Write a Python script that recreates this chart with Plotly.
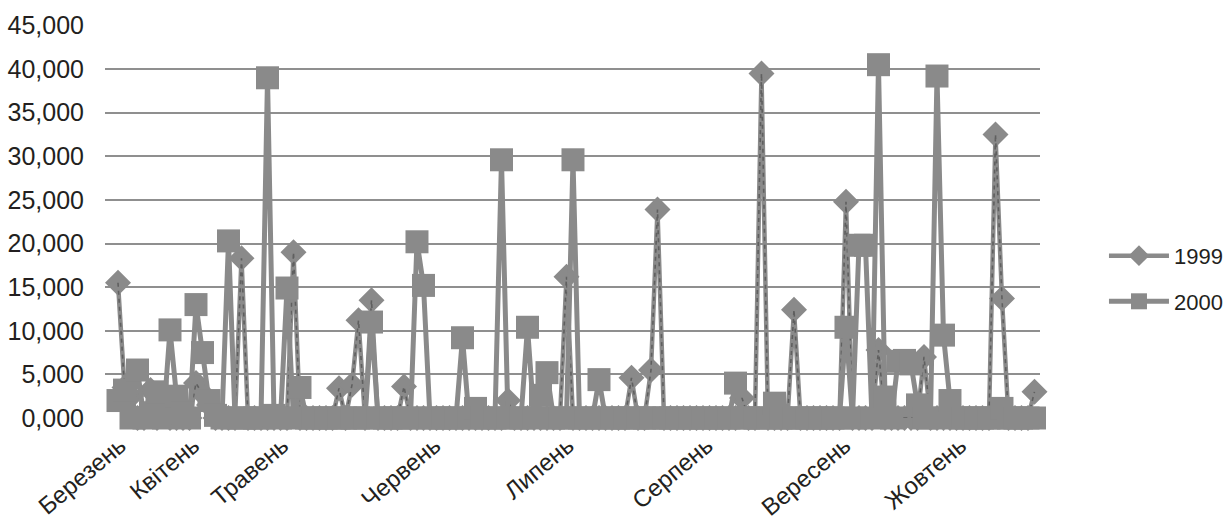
import plotly.graph_objects as go

# observation number for each value
n_points = 142
sample_idx = list(range(n_points))

# values in thousands
y1999 = [
    15.5, 3.5, 2.5, 0, 0, 3.2, 0, 2.0, 0, 0,
    0, 0, 4.0, 2.8, 1.5, 0, 0, 0, 0, 18.3,
    0, 0, 0, 0, 0, 0, 0, 19.0, 0, 0,
    0, 0, 0, 0, 3.4, 0, 3.8, 11.2, 0, 13.5,
    0, 0, 0, 0, 3.6, 0, 0, 0, 0, 0,
    0, 0, 0, 0, 0, 0, 0, 0, 0, 0,
    2.0, 0, 0, 0, 0, 0, 0, 0, 0, 16.2,
    0, 0, 0, 0, 0, 0, 0, 0, 0, 4.6,
    0, 0, 5.5, 23.9, 0, 0, 0, 0, 0, 0,
    0, 0, 0, 0, 0, 0, 2.3, 0, 0, 39.5,
    0, 0, 0, 0, 12.4, 0, 0, 0, 0, 0,
    0, 0, 24.8, 0, 0, 0, 0, 7.8, 0, 0,
    0, 0, 0, 0, 7.0, 0, 0, 0, 0, 0,
    0, 0, 0, 0, 0, 32.5, 13.7, 0, 0, 0,
    0, 3.0,
]

y2000 = [
    2.0, 3.2, 0, 5.5, 0, 0.6, 3.0, 0, 10.1, 2.5,
    0.6, 0, 13.0, 7.5, 2.0, 0.3, 0, 20.3, 0, 0,
    0, 0, 0, 39.0, 0.3, 0, 14.9, 0, 3.5, 0,
    0, 0, 0, 0, 0, 0, 0, 0, 0, 11.0,
    0, 0, 0, 0, 0, 0, 20.2, 15.2, 0, 0,
    0, 0, 0, 9.2, 0, 1.1, 0, 0, 0, 29.6,
    0, 0, 0, 10.4, 0, 2.6, 5.2, 0, 0, 0,
    29.6, 0, 0, 0, 4.4, 0, 0, 0, 0, 0,
    0, 0, 0, 0, 0, 0, 0, 0, 0, 0,
    0, 0, 0, 0, 0, 4.0, 0, 0, 0, 0,
    0, 1.7, 0, 0, 0, 0, 0, 0, 0, 0,
    0, 0, 10.4, 0, 19.8, 19.8, 0, 40.5, 2.4, 0,
    6.5, 6.6, 6.2, 1.5, 0, 0, 39.2, 9.5, 2.0, 0,
    0, 0, 0, 0, 0, 0, 1.1, 0, 0, 0,
    0, 0,
]

month_labels = ["Березень", "Квітень", "Травень", "Червень",
                "Липень", "Серпень", "Вересень", "Жовтень"]
month_start_idx = [0.3, 11.6, 25.3, 48.7, 69.2, 90.6, 111.8, 129.6]

y_tickvals = [0, 5, 10, 15, 20, 25, 30, 35, 40, 45]
y_ticktext = ["0,000", "5,000", "10,000", "15,000", "20,000",
              "25,000", "30,000", "35,000", "40,000", "45,000"]

GRAY = "#8a8a8a"
FONT = "Liberation Sans, Arial, Helvetica, sans-serif"
TXT = "#231f20"

fig = go.Figure()
fig.add_trace(go.Scatter(
    x=sample_idx, y=y1999, name="1999", mode="lines+markers",
    line=dict(color=GRAY, width=4.5),
    marker=dict(symbol="diamond", size=20, color=GRAY),
    cliponaxis=False, legendgroup="a",
))
fig.add_trace(go.Scatter(
    x=sample_idx, y=y1999, mode="lines", showlegend=False, hoverinfo="skip",
    line=dict(color="#5f5f5f", width=1.6, dash="4px,4px"),
    cliponaxis=False,
))
fig.add_trace(go.Scatter(
    x=sample_idx, y=y2000, name="2000", mode="lines+markers",
    line=dict(color=GRAY, width=5),
    marker=dict(symbol="square", size=23, color=GRAY),
    cliponaxis=False, legendgroup="b",
))

fig.update_layout(
    width=1228, height=522,
    margin=dict(l=105, r=188, t=25, b=104, autoexpand=False),
    paper_bgcolor="white", plot_bgcolor="white",
    font=dict(family=FONT, color=TXT, size=22),
    showlegend=True,
    legend=dict(
        xref="container", yref="container",
        x=0.899, y=0.55, xanchor="left", yanchor="top",
        font=dict(size=22, color=TXT), itemwidth=60,
        tracegroupgap=14, traceorder="grouped",
        bgcolor="rgba(0,0,0,0)",
    ),
    xaxis=dict(
        range=[-2.0, 141.85], tickmode="array",
        tickvals=month_start_idx, ticktext=month_labels,
        tickangle=-40, showgrid=False, zeroline=False, showline=False,
        ticks="", ticklabelstandoff=8,
        tickfont=dict(size=24, color=TXT), automargin=False,
    ),
    yaxis=dict(
        range=[0, 45.05], tickmode="array",
        tickvals=y_tickvals, ticktext=y_ticktext,
        showgrid=True, gridcolor="#8f8f8f", gridwidth=2,
        zeroline=False, showline=False, ticks="",
        ticklabelstandoff=20,
        tickfont=dict(size=25, color=TXT), automargin=False,
    ),
)

fig.write_html("out.html")
